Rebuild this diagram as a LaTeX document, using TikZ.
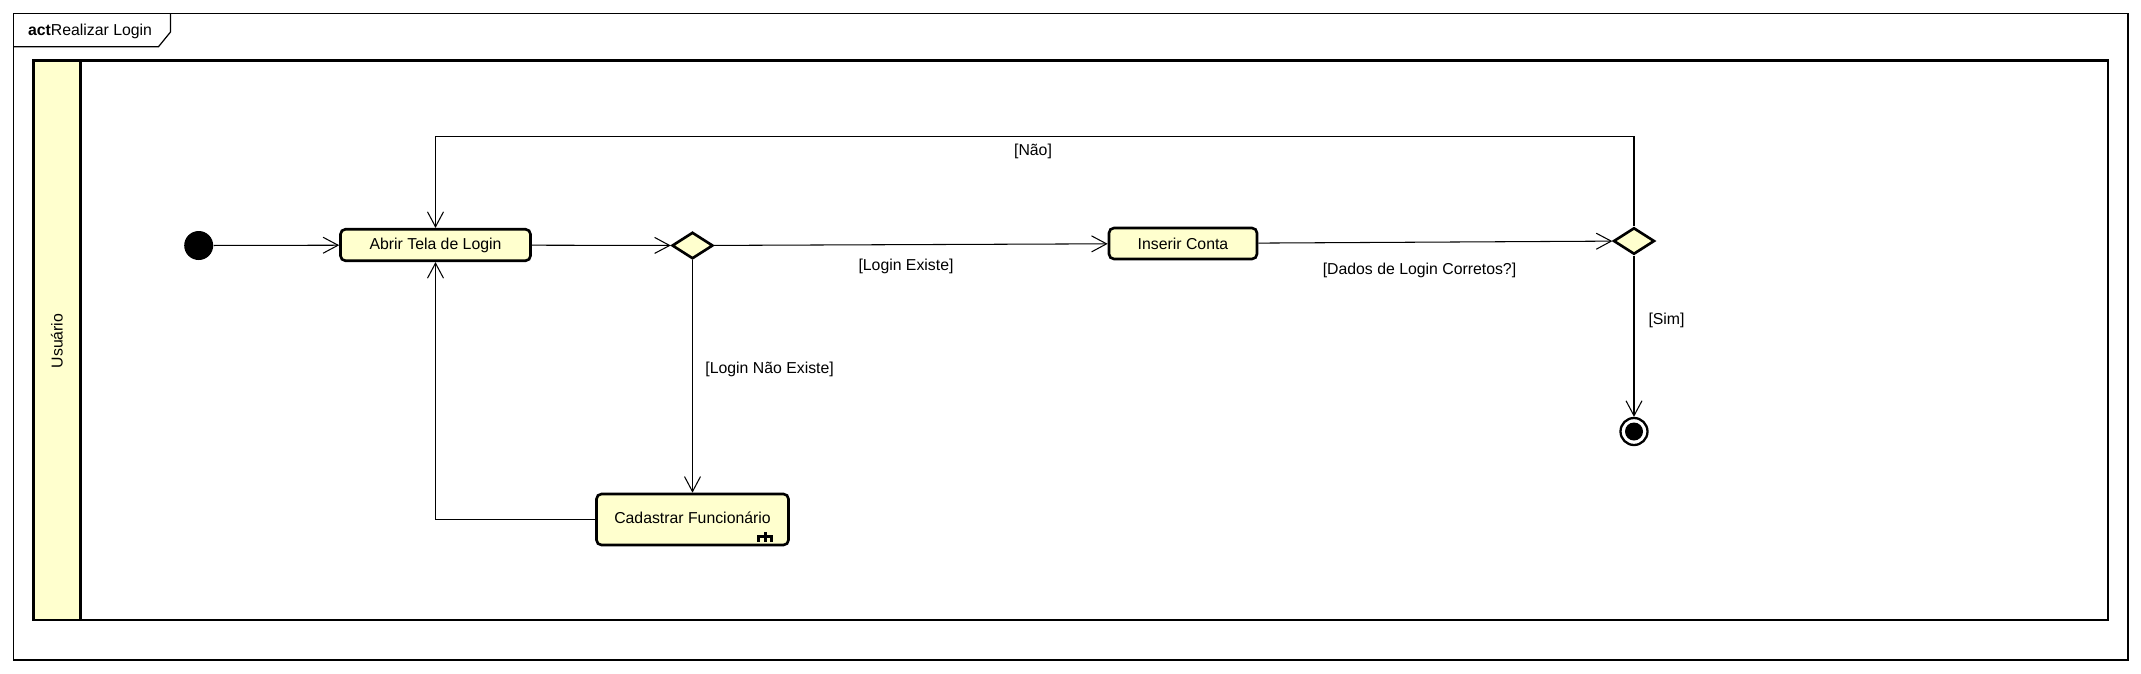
\documentclass[tikz,border=0pt]{standalone}
\usepackage{fontspec}
\setmainfont{Liberation Sans}
\usetikzlibrary{shapes.geometric,arrows.meta,scopes}
\definecolor{actfill}{RGB}{255,255,206}
\tikzset{
    action/.style={draw, rounded corners=1mm, line width=1.5pt, fill=actfill, inner sep=0pt},
    decision/.style={draw, diamond, line width=1.5pt, fill=actfill, inner sep=0pt, minimum width=8.2mm, minimum height=5.3mm},
    startnode/.style={circle, fill=black, inner sep=0pt, minimum size=5.8mm},
    endnode/.style={circle, draw, line width=1.3pt, fill=white, inner sep=0pt, minimum size=5.4mm,
        path picture={\fill [black] (path picture bounding box.center) circle (1.8mm);}},
    flow/.style={line width=0.6pt, -{Straight Barb[length=3mm, width=3.2mm]}},
    guard/.style={inner sep=0pt}
}

\begin{document}
\begin{tikzpicture}[x=0.2mm, y=-0.2mm, font=\fontsize{9}{11}\selectfont]
        \useasboundingbox (0,0) rectangle (2141,673);
        \draw [line width=0.7pt] (13.5,13.5) rectangle (2128,660);
        \draw [line width=0.7pt] (13.5,46.7) -- (158.5,46.7) -- (170.5,32) -- (170.5,13.5);
        \node [anchor=west, inner sep=0pt] (title) at (27.7,31.5) {\textbf{act}Realizar Login};
        \fill [actfill] (33.5,60.7) rectangle (80.4,620);
        \draw [line width=1.5pt] (33.5,60.7) rectangle (2108,620);
        \draw [line width=1.5pt] (80.4,60.7) -- (80.4,620);
        \node [rotate=90] (lane) at (57,341) {Usuário};
        \node [startnode] (init) at (198.7,245.5) {};
        \node [action, minimum width=38mm, minimum height=6.3mm] (abrir) at (435.5,245) {Abrir Tela de Login};
        \node [decision] (dec1) at (692.5,245.5) {};
        \node [action, minimum width=29.6mm, minimum height=6.2mm] (inserir) at (1183,243.5) {Inserir Conta};
        \node [decision] (dec2) at (1634,241) {};
        \node [endnode] (fim) at (1634,431.5) {};
        \node [action, minimum width=38.4mm, minimum height=10.2mm] (cadastrar) at (692.5,519.5) {\raisebox{0.8mm}{Cadastrar Funcionário}};
        \begin{scope}[shift={(cadastrar.south east)}, line width=1.6pt]
            \draw (-31,-4.5) -- (-31,-9.5) -- (-18,-9.5) -- (-18,-4.5);
            \draw (-24.5,-14.5) -- (-24.5,-4.5);
        \end{scope}
        \coordinate (volta) at (1634,136.7);
        \draw [flow] (init) -- (abrir);
        \draw [flow] (abrir) -- (dec1);
        \draw [flow] (dec1) -- (inserir);
        \draw [flow] (inserir) -- (dec2);
        \draw [flow] (dec2) -- (fim);
        \draw [flow] (dec2) -- (volta) -| (abrir);
        \draw [flow] (dec1) -- (cadastrar);
        \draw [flow] (cadastrar) -| (abrir);
        \node [guard] (gexiste) at (906,266.7) {[Login Existe]};
        \node [guard] (gdados) at (1419.5,270) {[Dados de Login Corretos?]};
        \node [guard] (gnao) at (1033,151.7) {[Não]};
        \node [guard] (gnaoexiste) at (769.6,369.3) {[Login Não Existe]};
        \node [guard] (gsim) at (1666.5,320) {[Sim]};
\end{tikzpicture}
\end{document}
